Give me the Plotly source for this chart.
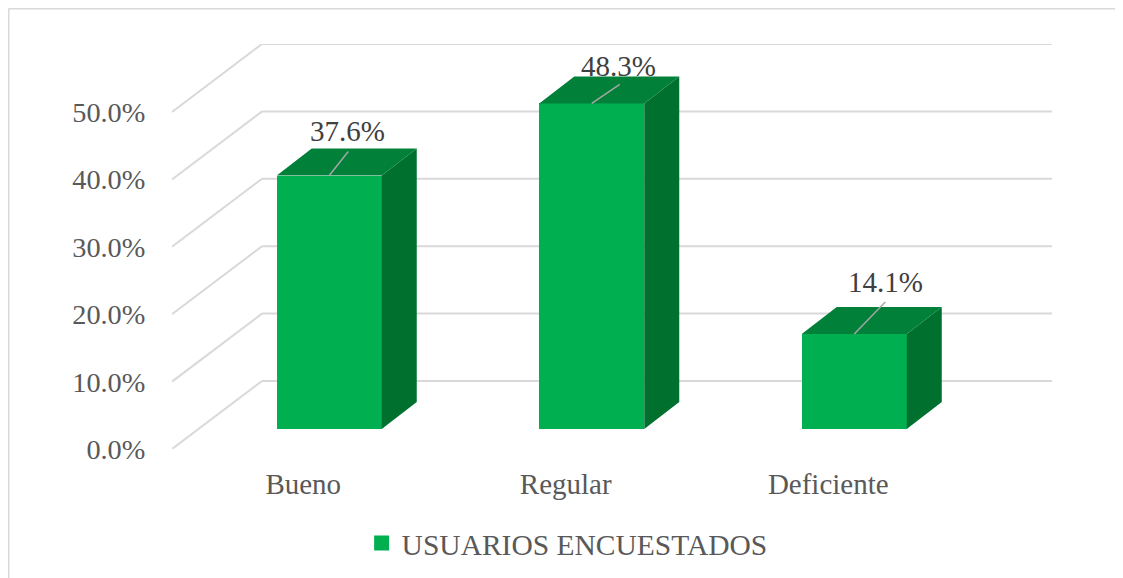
import plotly.graph_objects as go

categories = ["Bueno", "Regular", "Deficiente"]
values = [37.6, 48.3, 14.1]
y_ticks = [0, 10, 20, 30, 40, 50]
y_tick_labels = ["0.0%", "10.0%", "20.0%", "30.0%", "40.0%", "50.0%"]
series_name = "USUARIOS ENCUESTADOS"

FONT = "Liberation Serif"
FRONT = "#00B050"
SIDE = "#00702F"
TOP = "#008038"
GRID = "#D9D9D9"

# falso 3D: escala de los ejes en pixeles, para pasar offsets a unidades
PX_X = 262.5  # px por categoria
PX_Y = 6.74   # px por punto porcentual
PLOT_W = 880
PLOT_H = 405
MARGIN_L = 164
MARGIN_T = 36

WALL_DX = 90 / PX_X
WALL_DY = 68 / PX_Y
BAR_W = 105 / PX_X
BAR_SHIFT = 26 / PX_X
BAR_BASE = 20 / PX_Y
BAR_DX = 35 / PX_X
BAR_DY = 27 / PX_Y
X_MIN, X_MAX = -0.5, -0.5 + PLOT_W / PX_X

# linea guia y etiqueta de cada barra, en px respecto al centro de la cara superior
leader_px = [(19, 24), (28, 19), (31, 32)]
label_px = [(18, 45), (27, 37), (31, 52)]

positions = list(range(len(categories)))
bar_x = [p + BAR_SHIFT for p in positions]

fig = go.Figure()

fig.add_trace(go.Bar(
    x=bar_x,
    y=values,
    base=BAR_BASE,
    width=BAR_W,
    name=series_name,
    marker=dict(color=FRONT, line=dict(width=0)),
    showlegend=False,
    hovertemplate="%{y:.1f}%<extra></extra>",
))

# entrada de leyenda con el cuadro del tamano del original
fig.add_trace(go.Scatter(
    x=[None], y=[None], mode="markers", name=series_name,
    marker=dict(symbol="square", size=15, color=FRONT),
))

# caras lateral y superior
side_x, side_y, top_x, top_y = [], [], [], []
for cx, v in zip(bar_x, values):
    right = cx + BAR_W / 2
    left = cx - BAR_W / 2
    high = BAR_BASE + v
    side_x += [right, right + BAR_DX, right + BAR_DX, right, right, None]
    side_y += [BAR_BASE, BAR_BASE + BAR_DY, high + BAR_DY, high, BAR_BASE, None]
    top_x += [left, left + BAR_DX, right + BAR_DX, right, left, None]
    top_y += [high, high + BAR_DY, high + BAR_DY, high, high, None]

for xs, ys, color in [(side_x, side_y, SIDE), (top_x, top_y, TOP)]:
    fig.add_trace(go.Scatter(
        x=xs, y=ys, mode="lines", fill="toself", fillcolor=color,
        line=dict(width=0), showlegend=False, hoverinfo="skip",
    ))

# lineas guia de las etiquetas
for cx, v, (dx, dy), (tx, ty) in zip(bar_x, values, leader_px, label_px):
    high = BAR_BASE + v
    fig.add_trace(go.Scatter(
        x=[cx, cx + dx / PX_X], y=[high, high + dy / PX_Y], mode="lines",
        line=dict(color="#A6A6A6", width=1.5), showlegend=False, hoverinfo="skip",
    ))
    fig.add_annotation(
        x=cx, y=high, text=f"{v:.1f}%", showarrow=False,
        xshift=tx, yshift=ty, font=dict(family=FONT, size=29, color="#404040"),
    )

# rejilla: pared del fondo y diagonales del lateral
for t in y_ticks:
    fig.add_shape(type="line", layer="below", xref="x", yref="y",
                  x0=X_MIN, y0=t, x1=X_MIN + WALL_DX, y1=t + WALL_DY,
                  line=dict(color=GRID, width=2))
    fig.add_shape(type="line", layer="below", xref="x", yref="y",
                  x0=X_MIN + WALL_DX, y0=t + WALL_DY, x1=X_MAX, y1=t + WALL_DY,
                  line=dict(color=GRID, width=2))

# marco del grafico (sin lado inferior ni derecho); paper va referido al area de trazado
frame_left = (0.5 - MARGIN_L) / PLOT_W
frame_top = 1 + (MARGIN_T - 0.5) / PLOT_H
frame_right = 1 + 71 / PLOT_W
frame_bottom = -129 / PLOT_H
fig.add_shape(type="line", xref="paper", yref="paper",
              x0=frame_left, y0=frame_bottom, x1=frame_left, y1=frame_top,
              line=dict(color=GRID, width=2))
fig.add_shape(type="line", xref="paper", yref="paper",
              x0=frame_left, y0=frame_top, x1=frame_right, y1=frame_top,
              line=dict(color=GRID, width=2))

fig.update_layout(
    width=1115,
    height=570,
    margin=dict(l=MARGIN_L, r=71, t=MARGIN_T, b=129, autoexpand=False),
    paper_bgcolor="white",
    plot_bgcolor="white",
    font=dict(family=FONT, size=29, color="#595959"),
    bargap=0,
    legend=dict(
        orientation="h", x=0.449, xanchor="center", y=-0.233, yanchor="middle",
        font=dict(family=FONT, size=29.5, color="#595959"),
        bgcolor="rgba(0,0,0,0)",
    ),
    xaxis=dict(
        range=[X_MIN, X_MAX],
        tickvals=positions,
        ticktext=categories,
        showgrid=False,
        zeroline=False,
        showline=False,
        ticks="outside",
        ticklen=9,
        tickcolor="rgba(0,0,0,0)",
    ),
    yaxis=dict(
        range=[0, PLOT_H / PX_Y],
        tickvals=y_ticks,
        ticktext=y_tick_labels,
        tickfont=dict(size=28.3),
        showgrid=False,
        zeroline=False,
        showline=False,
        ticks="outside",
        ticklen=20,
        tickcolor="rgba(0,0,0,0)",
    ),
)

fig.write_html("out.html", post_script="document.documentElement.style.overflow = 'hidden';")
